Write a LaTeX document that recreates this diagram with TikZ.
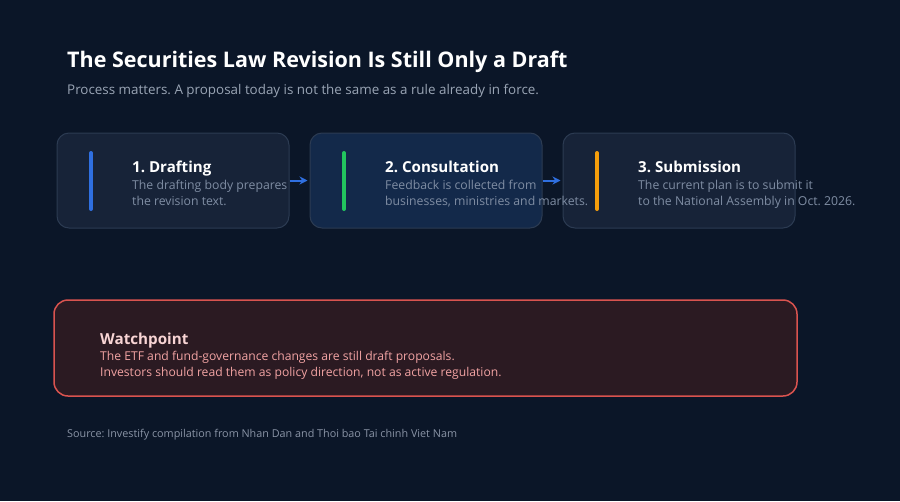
\documentclass[tikz,border=0pt]{standalone}
\usepackage{fontspec}
\setmainfont{Open Sans}
\usetikzlibrary{arrows.meta}
\definecolor{bg}{HTML}{0B1628}
\definecolor{boxfill}{HTML}{172338}
\definecolor{boxfillb}{HTML}{13294A}
\definecolor{boxline}{HTML}{2C3B52}
\definecolor{desc}{HTML}{7F8DA3}
\definecolor{subt}{HTML}{9AA5B5}
\definecolor{accblue}{HTML}{2F6FE0}
\definecolor{accgreen}{HTML}{22C55E}
\definecolor{accorange}{HTML}{F59E0B}
\definecolor{warnfill}{HTML}{2B1A22}
\definecolor{warnline}{HTML}{D9534F}
\definecolor{warntitle}{HTML}{F8D4D4}
\definecolor{warntext}{HTML}{F2A3A3}
\definecolor{srccol}{HTML}{8A94A6}
\tikzset{
  stepbox/.style={draw=boxline, line width=1pt, rounded corners=12pt, minimum width=232pt, minimum height=95pt, inner sep=0pt},
  accent/.style={line width=4pt, line cap=round},
  steptitle/.style={anchor=base west, inner sep=0pt, text=white, font=\fontsize{15.1}{19}\selectfont\bfseries},
  stepdesc/.style={anchor=north west, inner sep=0pt, text=desc, align=left, font=\fontsize{12.25}{16}\selectfont},
  flow/.style={draw=accblue, line width=2pt, shorten >=2pt, -{Stealth[length=8pt,width=8pt]}},
}
\begin{document}
\frenchspacing
\begin{tikzpicture}[x=1pt,y=-1pt]
\useasboundingbox (0,0) rectangle (900,501);
\fill[bg] (0,0) rectangle (900,501);
% header
\node[anchor=base west, inner sep=0pt, text=white, font=\fontsize{21.5}{26}\selectfont\bfseries] (title) at (67,67) {The Securities Law Revision Is Still Only a Draft};
\node[anchor=base west, inner sep=0pt, text=subt, font=\fontsize{13.4}{17}\selectfont] (sub) at (67,94) {Process matters. A proposal today is not the same as a rule already in force.};
% boxes
\node[stepbox, fill=boxfill] (b1) at (173,180.5) {};
\node[stepbox, fill=boxfillb] (b2) at (426,180.5) {};
\node[stepbox, fill=boxfill] (b3) at (679,180.5) {};
% accents
\coordinate (a1t) at (91,153); \coordinate (a1b) at (91,209);
\coordinate (a2t) at (344,153); \coordinate (a2b) at (344,209);
\coordinate (a3t) at (597,153); \coordinate (a3b) at (597,209);
\draw[accent, accblue] (a1t) -- (a1b);
\draw[accent, accgreen] (a2t) -- (a2b);
\draw[accent, accorange] (a3t) -- (a3b);
% arrows
\draw[flow] (b1.east) -- (b2.west);
\draw[flow] (b2.east) -- (b3.west);
% texts
\node[steptitle] (t1) at (132,172) {1. Drafting};
\node[stepdesc] (d1) at (132,180) {The drafting body prepares\\the revision text.};
\node[steptitle] (t2) at (385,172) {2. Consultation};
\node[stepdesc] (d2) at (385,180) {Feedback is collected from\\businesses, ministries and markets.};
\node[steptitle] (t3) at (638,172) {3. Submission};
\node[stepdesc] (d3) at (638,180) {The current plan is to submit it\\to the National Assembly in Oct. 2026.};
% watchpoint
\node[draw=warnline, fill=warnfill, line width=1.5pt, rounded corners=14pt, minimum width=743pt, minimum height=96pt, inner sep=0pt] (warn) at (425.5,348) {};
\node[anchor=base west, inner sep=0pt, text=warntitle, font=\fontsize{15.2}{19}\selectfont\bfseries] (wt) at (100,344) {Watchpoint};
\node[anchor=north west, inner sep=0pt, text=warntext, align=left, font=\fontsize{12.15}{16}\selectfont] (wd) at (100,350.5) {The ETF and fund-governance changes are still draft proposals.\\Investors should read them as policy direction, not as active regulation.};
% source
\node[anchor=base west, inner sep=0pt, text=srccol, font=\fontsize{10.8}{13}\selectfont] (src) at (67,437) {Source: Investify compilation from Nhan Dan and Thoi bao Tai chinh Viet Nam};
\end{tikzpicture}
\end{document}
